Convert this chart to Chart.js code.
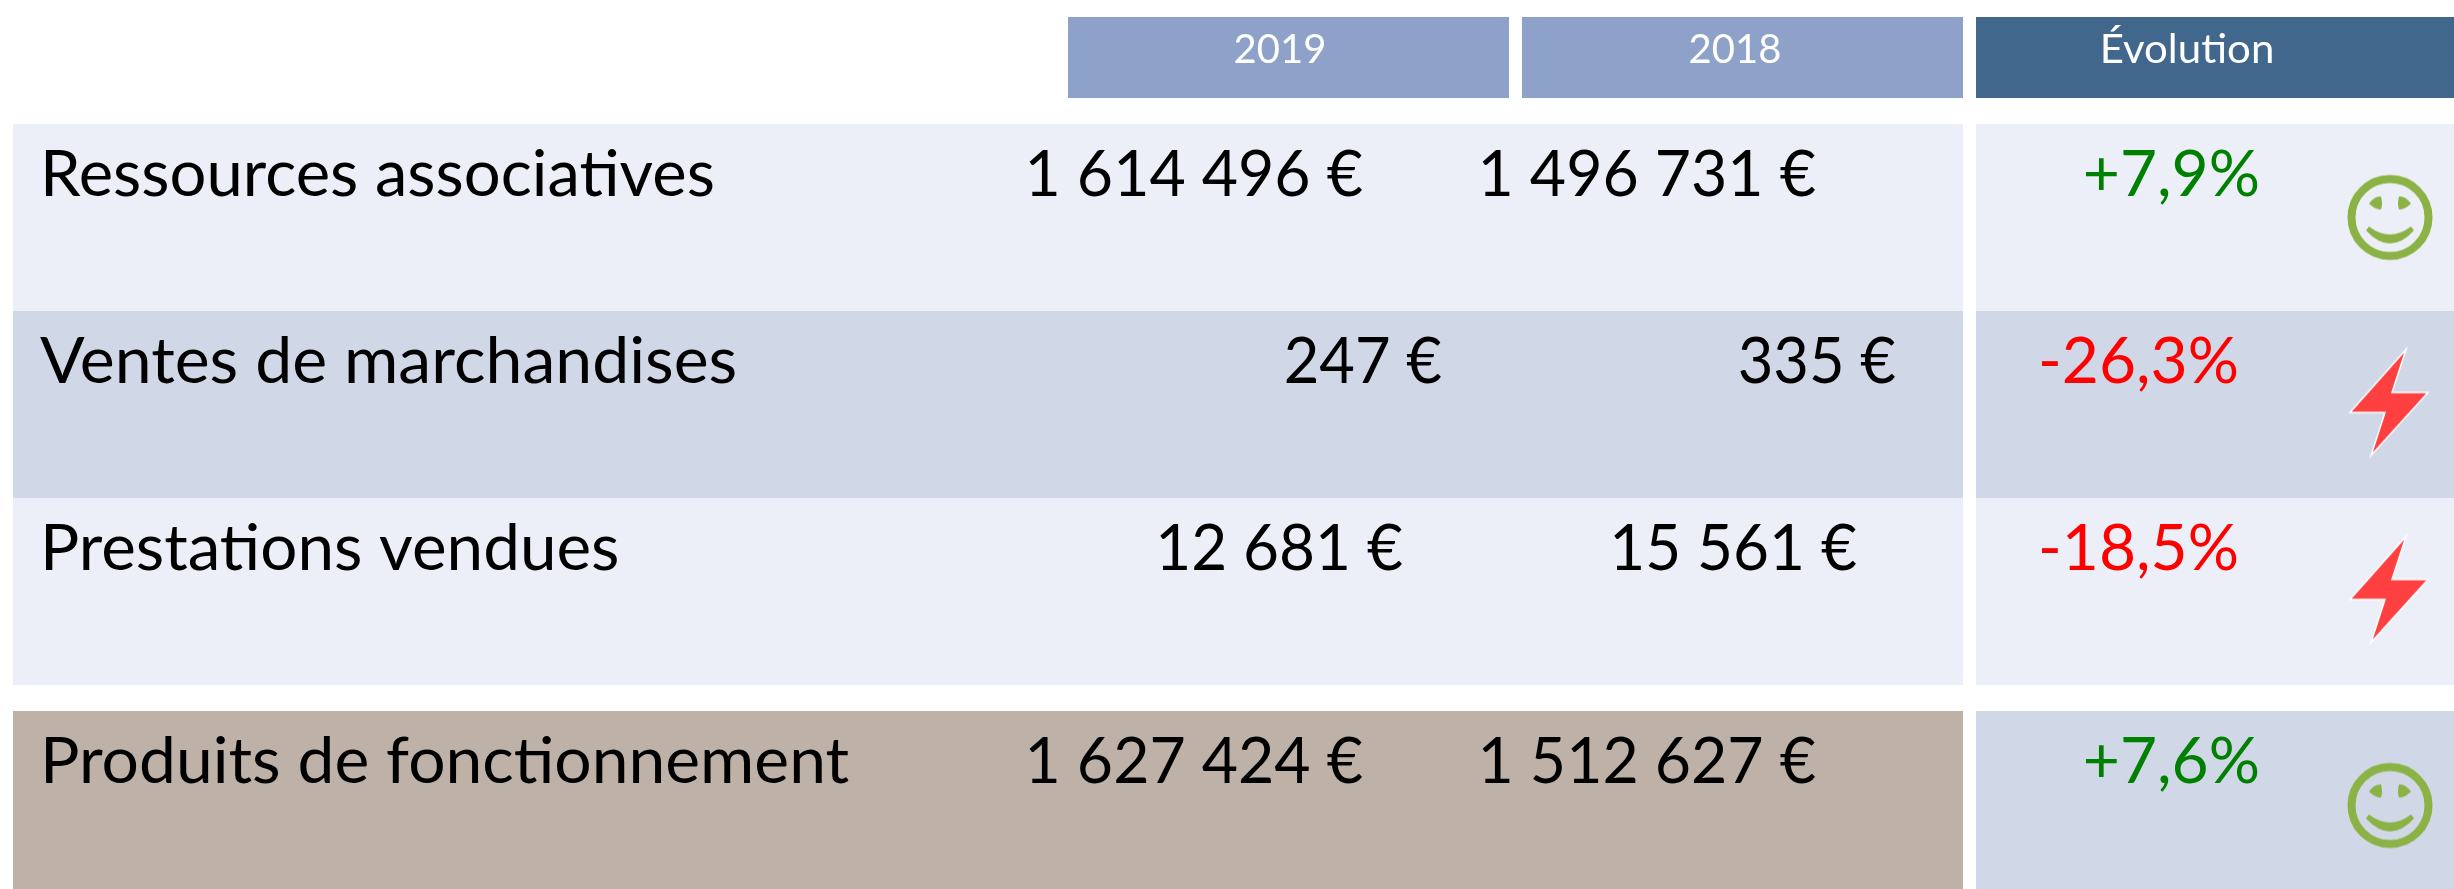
<!DOCTYPE html>
<html>
<head>
<meta charset="utf-8">
<title>Produits de fonctionnement</title>
<script src="https://cdn.jsdelivr.net/npm/chart.js@4"></script>
<style>
  html, body { margin: 0; padding: 0; background: #fff; overflow: hidden; }
  canvas { display: block; }
</style>
</head>
<body>
<canvas id="tableChart" width="2454" height="889"></canvas>
<script>
// Données du tableau
const rowLabels = ["Ressources associatives", "Ventes de marchandises", "Prestations vendues", "Produits de fonctionnement"];
const columnLabels = ["2019", "2018", "Évolution"];
const values2019 = [1614496, 247, 12681, 1627424];
const values2018 = [1496731, 335, 15561, 1512627];
const evolution = [7.9, -26.3, -18.5, 7.6];

// Mise en page, en pixels de la page
const rowCenters = [217.5, 404.5, 591.5, 804.5];
const rowFills = ['#ECEFF7', '#D0D7E6', '#ECEFF7', '#BDB1A8'];
const evolutionFills = ['#ECEFF7', '#D0D7E6', '#ECEFF7', '#D0D7E6'];
const headerCenter = 57.5;
const headerSpans = [[1068, 1509], [1522, 1963], [1976, 2454]];
const headerFills = ['#8EA1C8', '#8EA1C8', '#42678D'];
const headerTextX = [1280, 1735, 2187];
const headerStretch = [1, 1, 1.05];
const right2019 = [1363, 1442, 1403, 1363];
const right2018 = [1816, 1896, 1857, 1816];
const rightEvolution = [2260, 2239, 2239, 2260];
const iconCenters = [2390, 2389, 2389, 2390];
const iconOffsetY = [0, -2, -2, 1];
const labelStretch = [1.018, 1.033, 1.024, 1.03];
const numberStretch = [0.978, 0.96, 0.97, 0.978];

const fontName = 'Lato, "Open Sans", sans-serif';
const bodyFont = '64px ' + fontName;
const headerFont = '40px ' + fontName;

function makeSmile() {
    const c = document.createElement('canvas');
    c.width = 90; c.height = 90;
    const g = c.getContext('2d');
    g.strokeStyle = '#8AB244';
    g.fillStyle = '#8AB244';
    g.lineWidth = 8;
    g.beginPath();
    g.arc(45, 45, 38.5, 0, Math.PI * 2);
    g.stroke();
    // yeux
    [[32, 31], [58, 31]].forEach(function (e, i) {
        g.beginPath();
        const s = i === 0 ? -1 : 1;
        g.moveTo(e[0] + s * 8, e[1]);
        g.quadraticCurveTo(e[0] + s * 2, e[1] - 8, e[0] - s * 4, e[1] - 7);
        g.quadraticCurveTo(e[0] - s * 6, e[1], e[0] - s * 4, e[1] + 6);
        g.quadraticCurveTo(e[0] + s * 2, e[1] + 6, e[0] + s * 8, e[1]);
        g.fill();
    });
    // bouche
    g.beginPath();
    g.moveTo(24, 54);
    g.quadraticCurveTo(45, 70, 66, 54);
    g.lineTo(69, 58);
    g.quadraticCurveTo(45, 84, 21, 58);
    g.closePath();
    g.fill();
    return c;
}

function makeBolt() {
    const c = document.createElement('canvas');
    c.width = 84; c.height = 114;
    const g = c.getContext('2d');
    g.beginPath();
    g.moveTo(59, 4); g.lineTo(45, 47); g.lineTo(81, 47);
    g.lineTo(24, 110); g.lineTo(38, 67); g.lineTo(3, 67);
    g.closePath();
    g.fillStyle = '#FF4040';
    g.fill();
    g.strokeStyle = '#FFFFFF';
    g.lineWidth = 1.5;
    g.lineJoin = 'miter';
    g.stroke();
    return c;
}

const smile = makeSmile();
const bolt = makeBolt();

function euros(v) {
    return String(v).replace(/\B(?=(\d{3})+(?!\d))/g, ' ') + ' €';
}

function percent(v) {
    return (v > 0 ? '+' : '-') + Math.abs(v).toFixed(1).replace('.', ',') + '%';
}

function putText(ctx, text, x, y, font, color, align, stretch) {
    ctx.save();
    ctx.font = font;
    ctx.fillStyle = color;
    ctx.textAlign = align;
    ctx.textBaseline = 'alphabetic';
    ctx.translate(x, y);
    ctx.scale(stretch, 1);
    ctx.fillText(text, 0, 0);
    ctx.restore();
}

const tableText = {
    id: 'tableText',
    afterDatasetsDraw(chart) {
        const ctx = chart.ctx;
        const x = chart.scales.x;
        const y = chart.scales.y;
        columnLabels.forEach(function (label, i) {
            putText(ctx, label, x.getPixelForValue(headerTextX[i]), y.getPixelForValue(63), headerFont, '#FFFFFF', 'center', headerStretch[i]);
        });
        rowLabels.forEach(function (label, i) {
            const base = y.getPixelForValue(rowCenters[i] - 21.5);
            putText(ctx, label, x.getPixelForValue(40), base, bodyFont, '#000000', 'left', labelStretch[i]);
            putText(ctx, euros(values2019[i]), x.getPixelForValue(right2019[i]), base, bodyFont, '#000000', 'right', numberStretch[i]);
            putText(ctx, euros(values2018[i]), x.getPixelForValue(right2018[i]), base, bodyFont, '#000000', 'right', numberStretch[i]);
            putText(ctx, percent(evolution[i]), x.getPixelForValue(rightEvolution[i]), base, bodyFont, evolution[i] > 0 ? '#008000' : '#FF0000', 'right', 1);
        });
    }
};

new Chart(document.getElementById('tableChart').getContext('2d'), {
    type: 'scatter',
    data: {
        datasets: [
            {
                label: 'Tendance',
                type: 'scatter',
                order: 0,
                data: evolution.map(function (v, i) { return { x: iconCenters[i], y: rowCenters[i] + iconOffsetY[i] }; }),
                pointStyle: evolution.map(function (v) { return v > 0 ? smile : bolt; }),
                pointRadius: 20,
                pointHoverRadius: 20
            },
            {
                label: 'En-têtes',
                type: 'bar',
                indexAxis: 'y',
                order: 1,
                grouped: false,
                barThickness: 81,
                inflateAmount: 0,
                data: headerSpans.map(function (s) { return { x: s, y: headerCenter }; }),
                backgroundColor: headerFills
            },
            {
                label: 'Lignes',
                type: 'bar',
                indexAxis: 'y',
                order: 1,
                grouped: false,
                barThickness: 187,
                inflateAmount: 0,
                data: rowLabels.map(function (l, i) { return { x: [13, 1963], y: rowCenters[i] }; }),
                backgroundColor: rowFills
            },
            {
                label: 'Évolution',
                type: 'bar',
                indexAxis: 'y',
                order: 1,
                grouped: false,
                barThickness: 187,
                inflateAmount: 0,
                data: rowLabels.map(function (l, i) { return { x: [1976, 2454], y: rowCenters[i] }; }),
                backgroundColor: evolutionFills
            }
        ]
    },
    options: {
        responsive: false,
        animation: false,
        events: [],
        layout: { padding: 0, autoPadding: false },
        plugins: {
            legend: { display: false },
            tooltip: { enabled: false }
        },
        scales: {
            x: { type: 'linear', display: false, min: 0, max: 2454, offset: false },
            y: { type: 'linear', display: false, min: 0, max: 889, reverse: true, offset: false }
        }
    },
    plugins: [tableText]
});
</script>
</body>
</html>
